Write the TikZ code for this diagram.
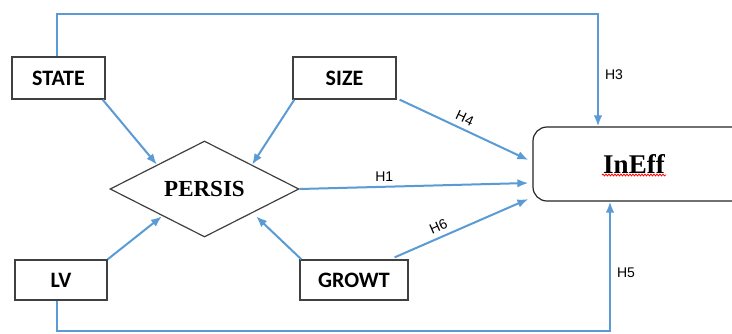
\documentclass[tikz,border=0pt]{standalone}
\usepackage{fontspec}
\usetikzlibrary{arrows.meta,shapes.geometric,calc,decorations.pathmorphing}
\newfontfamily\varfont{Carlito}
\newfontfamily\keyfont{Liberation Serif}
\newfontfamily\hypfont{Liberation Sans}
\definecolor{linkblue}{RGB}{91,155,213}
\begin{document}
\begin{tikzpicture}[x=1pt,y=-1pt,
  varbox/.style={draw=black!75, line width=1.3pt, rectangle, inner sep=0pt,
    font=\varfont\bfseries\fontsize{22}{26}\selectfont},
  link/.style={draw=linkblue, line width=2pt, -{Latex[length=11pt,width=8.5pt]}},
  hyp/.style={font=\hypfont\fontsize{14}{16}\selectfont, inner sep=0pt}]
\useasboundingbox (0,0) rectangle (732,333);
\clip (0,0) rectangle (732,333);
\fill[white] (0,0) rectangle (732,333);

% exogenous variables
\node[varbox, minimum width=93pt, minimum height=42pt] (state) at (58.5,78) {STATE};
\node[varbox, minimum width=103pt, minimum height=42pt] (size) at (344.5,78) {SIZE};
\node[varbox, minimum width=92pt, minimum height=40pt] (lv) at (61,280) {LV};
\node[varbox, minimum width=108pt, minimum height=40pt] (growt) at (354,280) {GROWT};

% mediator
\node[draw=black!75, line width=1.2pt, diamond, minimum width=189pt, minimum height=90pt,
  inner sep=0pt, font=\keyfont\bfseries\fontsize{23}{26}\selectfont] (persis) at (204.5,189) {PERSIS};

% outcome: the box runs on past the right edge
\node[draw=black!85, line width=1.2pt, rounded corners=14pt, minimum width=260pt, minimum height=74pt]
  (ineff) at (663,164) {};
\node[font=\keyfont\bfseries\fontsize{27}{30}\selectfont, inner sep=0pt] (ineffname) at (634,164) {InEff};
\draw[red, line width=0.8pt, decorate, decoration={snake, amplitude=0.9pt, segment length=3pt}]
  ($(ineffname.center)+(-32,11)$) -- ($(ineffname.center)+(32,11)$);

% paths into PERSIS
\draw[link] ([xshift=-3pt]state.south east) -- (persis.north west);
\draw[link] ([xshift=2pt]size.south west) -- (persis.north east);
\draw[link] (lv.north east) -- ([xshift=5pt,yshift=-3pt]persis.south west);
\draw[link] ([xshift=2pt]growt.north west) -- ([xshift=4pt,yshift=-3pt]persis.south east);

% paths into InEff
\draw[link] ([xshift=3pt]size.south east) -- ([xshift=-4pt,yshift=4pt]ineff.west)
  node[hyp, pos=0.47, above=5pt, sloped] {H4};
\draw[link] (persis.east) -- ([xshift=-4pt,yshift=-19pt]ineff.west)
  node[hyp, pos=0.37, above=4pt] {H1};
\draw[link] ([xshift=-14pt,yshift=2pt]growt.north east) -- ([xshift=-4pt,yshift=-35pt]ineff.west)
  node[hyp, pos=0.36, above=5pt, sloped] {H6};

\coordinate (h3corner) at (598,14);
\draw[link] ([xshift=-1.5pt]state.north) |- (h3corner) -- (h3corner |- ineff.north)
  node[hyp, pos=0.54, right=6pt] {H3};

\coordinate (h5corner) at (610,331);
\draw[link] ([xshift=-4pt]lv.south) |- (h5corner) -- (h5corner |- ineff.south)
  node[hyp, pos=0.45, right=6pt] {H5};
\end{tikzpicture}
\end{document}
